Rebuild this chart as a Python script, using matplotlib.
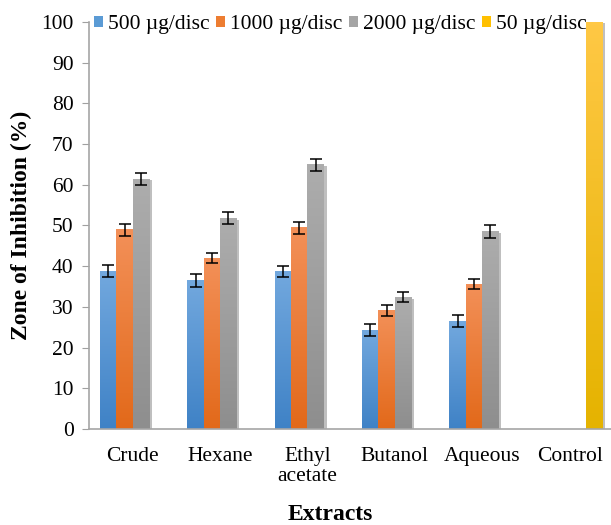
import numpy as np
import matplotlib

matplotlib.use('Agg')
import matplotlib.pyplot as plt
import matplotlib.patheffects as pe
from matplotlib.colors import LinearSegmentedColormap

# data
categories = ['Crude', 'Hexane', 'Ethyl\nacetate', 'Butanol', 'Aqueous', 'Control']
series_names = ['500 µg/disc', '1000 µg/disc', '2000 µg/disc', '50 µg/disc']
dose_500 = [38.8, 36.4, 38.7, 24.3, 26.5, 0]
dose_1000 = [48.9, 42.0, 49.4, 29.0, 35.6, 0]
dose_2000 = [61.4, 51.8, 64.9, 32.4, 48.5, 0]
dose_50 = [0, 0, 0, 0, 0, 100]
err_500 = [1.5, 1.6, 1.35, 1.4, 1.55, 0]
err_1000 = [1.5, 1.3, 1.55, 1.35, 1.3, 0]
err_2000 = [1.5, 1.55, 1.5, 1.3, 1.6, 0]
err_50 = [0, 0, 0, 0, 0, 0]

plt.rcParams['font.family'] = ['Liberation Serif', 'DejaVu Serif']

# (top colour, bottom colour) for the excel-like gradients
grads = [('#72a8de', '#3f82c6'), ('#f39058', '#e2691a'),
         ('#adadad', '#8e8e8e'), ('#ffc845', '#e5b300')]
legend_cols = ['#5b9bd5', '#ed7d31', '#a5a5a5', '#ffc000']

values = [dose_500, dose_1000, dose_2000, dose_50]
errors = [err_500, err_1000, err_2000, err_50]

fig = plt.figure(figsize=(6.11, 5.25), dpi=100)
ax = fig.add_axes([0.1457, 0.1829, 0.858, 0.7752])

x = np.arange(len(categories))
w = 0.1875
offsets = [-1.5, -0.5, 0.5, 1.5]

for vals, errs, (ctop, cbot), off, lc, name in zip(values, errors, grads, offsets, legend_cols, series_names):
    bars = ax.bar(x + off * w, vals, w, color=lc, label=name, zorder=2,
                  path_effects=[pe.SimplePatchShadow(offset=(2, -1), alpha=0.25, shadow_rgbFace='#000000'), pe.Normal()])
    cmap = LinearSegmentedColormap.from_list('g', [cbot, ctop])
    grad = np.linspace(0, 1, 128).reshape(-1, 1)
    for b, v in zip(bars, vals):
        if v <= 0:
            continue
        bx, by = b.get_x(), b.get_y()
        ax.imshow(grad, cmap=cmap, aspect='auto', origin='lower',
                  extent=(bx, bx + b.get_width(), by, by + b.get_height()), zorder=2.5)
    for xi, v, e in zip(x + off * w, vals, errs):
        if e > 0:
            ax.errorbar(xi, v, yerr=e, fmt='none', ecolor='black', elinewidth=1.1,
                        capsize=4.5, capthick=1.1, zorder=4)

ax.set_xlim(-0.5, 5.5)
ax.set_ylim(0, 100)
ax.set_yticks(np.arange(0, 101, 10))
ax.set_xticks(x)
ax.set_xticklabels(categories, fontsize=15.5, linespacing=1.1)
ax.tick_params(axis='y', labelsize=15.5, length=5, color='#a0a0a0', pad=6)
ax.tick_params(axis='x', length=0, pad=13)

for s in ['top', 'right']:
    ax.spines[s].set_visible(False)
for s in ['left', 'bottom']:
    ax.spines[s].set_color('#a6a6a6')
    ax.spines[s].set_linewidth(1.2)

ax.set_ylabel('Zone of Inhibition (%)', fontsize=17, fontweight='bold')
ax.yaxis.set_label_coords(-0.108, 0.5)
ax.set_xlabel('Extracts', fontsize=17, fontweight='bold')
ax.xaxis.set_label_coords(0.461, -0.184)

leg = ax.legend(loc='center left', bbox_to_anchor=(0.01, 0.993), ncol=4, frameon=False,
                fontsize=15.5, handlelength=0.4, handleheight=0.4, handletextpad=0.25,
                columnspacing=0.3, borderaxespad=0, borderpad=0)
for h in leg.legend_handles:
    h.set_path_effects([])

fig.savefig('out.png', dpi=100)
